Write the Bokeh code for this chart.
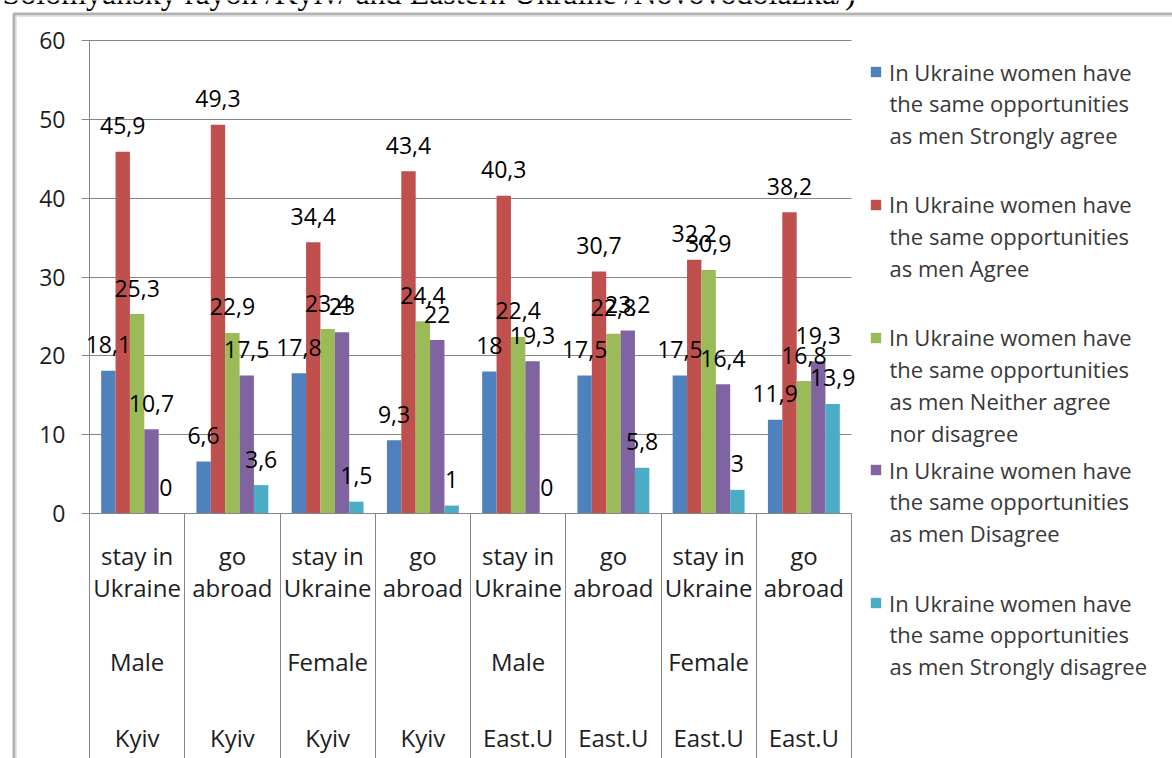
from bokeh.plotting import figure
from bokeh.models import (ColumnDataSource, Range1d, LabelSet, LinearAxis,
                          Legend, LegendItem, BoxAnnotation, FixedTicker,
                          SingleIntervalTicker, Label)
from bokeh.core.properties import value
from bokeh.transform import dodge
from bokeh.embed import file_html
from bokeh.resources import INLINE

# ---------------- data ----------------
behaviour_top = ["stay in", "go", "stay in", "go", "stay in", "go", "stay in", "go"]
behaviour_bottom = ["Ukraine", "abroad", "Ukraine", "abroad", "Ukraine", "abroad", "Ukraine", "abroad"]
sex_labels = ["Male", "", "Female", "", "Male", "", "Female", ""]
region_labels = ["Kyiv", "Kyiv", "Kyiv", "Kyiv", "East.U", "East.U", "East.U", "East.U"]

series_names = [
    "In Ukraine women have\nthe same opportunities\nas men Strongly agree",
    "In Ukraine women have\nthe same opportunities\nas men Agree",
    "In Ukraine women have\nthe same opportunities\nas men Neither agree\nnor disagree",
    "In Ukraine women have\nthe same opportunities\nas men Disagree",
    "In Ukraine women have\nthe same opportunities\nas men Strongly disagree",
]
strongly_agree = [18.1, 6.6, 17.8, 9.3, 18.0, 17.5, 17.5, 11.9]
agree = [45.9, 49.3, 34.4, 43.4, 40.3, 30.7, 32.2, 38.2]
neither = [25.3, 22.9, 23.4, 24.4, 22.4, 22.8, 30.9, 16.8]
disagree = [10.7, 17.5, 23.0, 22.0, 19.3, 23.2, 16.4, 19.3]
strongly_disagree = [0, 3.6, 1.5, 1.0, 0, 5.8, 3.0, 13.9]

caption = "Solomyansky rayon /Kyiv/ and Eastern Ukraine /Novovodolazka/)"

y_ticks_step = 10
y_max = 60

colors = ["#4F81BD", "#C0504D", "#9BBB59", "#8064A2", "#4BACC6"]
series = [strongly_agree, agree, neither, disagree, strongly_disagree]

# ---------------- layout (pixels) ----------------
W, H = 1172, 758
PL, PR, PT, PB = 89, 851, 40, 513          # plot area inside the canvas
FONT = value("Open Sans")
GRID = "#868686"
TXT = "#1e1e1e"
LEG_TXT = "#383838"
LEG_FS = 22
LEG_X = 869                                  # left edge of legend squares
LEG_FIRST, LEG_PITCH, LEG_LINE = 72, 132.75, 32.0

n_cat = len(region_labels)
px_x = (PR - PL) / n_cat
px_y = (PB - PT) / y_max


def fmt(v):
    return f"{v:g}".replace(".", ",")


# category slot i occupies [i, i+1] on the x scale; its centre is i + 0.5
xc = [i + 0.5 for i in range(n_cat)]
data = dict(xc=xc, top1=behaviour_top, top2=behaviour_bottom, reg=region_labels)
for k, vals in enumerate(series):
    data[f"s{k}"] = vals
    data[f"t{k}"] = [fmt(v) for v in vals]
src = ColumnDataSource(data)
sex_src = ColumnDataSource(dict(xc=[x for x, s in zip(xc, sex_labels) if s],
                                sex=[s for s in sex_labels if s]))

p = figure(x_range=Range1d(-PL / px_x, n_cat + (W - PR) / px_x),
           y_range=Range1d(-(H - PB) / px_y, y_max + PT / px_y),
           width=W, height=H, output_backend="svg", toolbar_location=None,
           x_axis_location=None, y_axis_location=None, title=None,
           min_border=0, min_border_left=0, min_border_right=0,
           min_border_top=0, min_border_bottom=0)
p.outline_line_color = None
p.background_fill_color = "white"
p.border_fill_color = "white"
p.xgrid.visible = False
p.ygrid.visible = False

# value axis; its inward ticks double as the horizontal gridlines
yax = LinearAxis(fixed_location=0, bounds=(0, y_max),
                 ticker=SingleIntervalTicker(interval=y_ticks_step),
                 axis_line_color=GRID, major_tick_line_color=GRID,
                 major_tick_out=8, major_tick_in=PR - PL,
                 minor_tick_out=0, minor_tick_in=0,
                 major_label_text_font="Open Sans", major_label_text_font_size="23px",
                 major_label_text_color=TXT, major_label_standoff=16)
yax.level = "underlay"
p.add_layout(yax, "left")

# category axis; ticks at slot boundaries run down through the label area
xax = LinearAxis(fixed_location=0, bounds=(0, n_cat),
                 ticker=FixedTicker(ticks=list(range(n_cat + 1))),
                 axis_line_color=GRID, major_tick_line_color=GRID,
                 major_tick_out=H - PB, major_tick_in=0,
                 minor_tick_out=0, minor_tick_in=0,
                 major_label_text_color=None)
p.add_layout(xax, "below")

bar_w = 0.151
renderers = []
for k in range(len(series)):
    off = (k - (len(series) - 1) / 2) * bar_w
    r = p.vbar(x=dodge("xc", off), top=f"s{k}", width=bar_w, source=src,
               fill_color=colors[k], line_color=None)
    renderers.append(r)
    p.add_layout(LabelSet(x=dodge("xc", off), y=f"s{k}", text=f"t{k}", source=src,
                          text_align="center", text_baseline="middle", y_offset=26,
                          text_font=FONT, text_font_size="23px", text_color="black"))

# multi-level category labels
for field, s, off in [("top1", src, -42), ("top2", src, -74), ("sex", sex_src, -148), ("reg", src, -224)]:
    p.add_layout(LabelSet(x="xc", y=0, text=field, source=s, text_align="center",
                          text_baseline="middle", y_offset=off,
                          text_font=FONT, text_font_size="24px", text_color=TXT))

# legend: square + first line of each series name, further lines wrapped below it
row_h = LEG_FS * 4 / 3
for k, r in enumerate(renderers):
    lines = series_names[k].split("\n")
    c = LEG_FIRST + LEG_PITCH * k
    lg = Legend(items=[LegendItem(label=lines[0], renderers=[r])],
                location=(LEG_X, H - (c + row_h / 2)), padding=0, margin=0, spacing=0,
                border_line_color=None, background_fill_alpha=0,
                glyph_width=13, glyph_height=13, label_standoff=7,
                label_text_font="Open Sans", label_text_font_size=f"{LEG_FS}px",
                label_text_baseline="middle", label_text_color=LEG_TXT)
    p.add_layout(lg)
    for j, line in enumerate(lines[1:], start=1):
        p.add_layout(Label(x=LEG_X + 20, y=H - (c + LEG_LINE * j) + 1.5, x_units="screen", y_units="screen",
                           text=line, text_align="left", text_baseline="middle",
                           text_font="Open Sans", text_font_size=f"{LEG_FS}px",
                           text_color=LEG_TXT))

# cut-off document caption above the chart
p.add_layout(Label(x=2, y=H - 10.5, x_units="screen", y_units="screen", text=caption,
                   text_font="Liberation Serif", text_font_size="32px",
                   text_baseline="bottom", text_color="black"))

# frame of the embedded chart: black edge with a grey shade inside
p.add_layout(BoxAnnotation(left=13.5, right=5000, top=H - 13.5, bottom=-5000,
                           left_units="screen", right_units="screen",
                           top_units="screen", bottom_units="screen",
                           fill_alpha=0, line_color="black", line_width=3))
p.add_layout(BoxAnnotation(left=16, right=5000, top=H - 16, bottom=-5000,
                           left_units="screen", right_units="screen",
                           top_units="screen", bottom_units="screen",
                           fill_alpha=0, line_color="#a6a6a6", line_width=1))

open("out.html", "w").write(file_html(p, INLINE))
